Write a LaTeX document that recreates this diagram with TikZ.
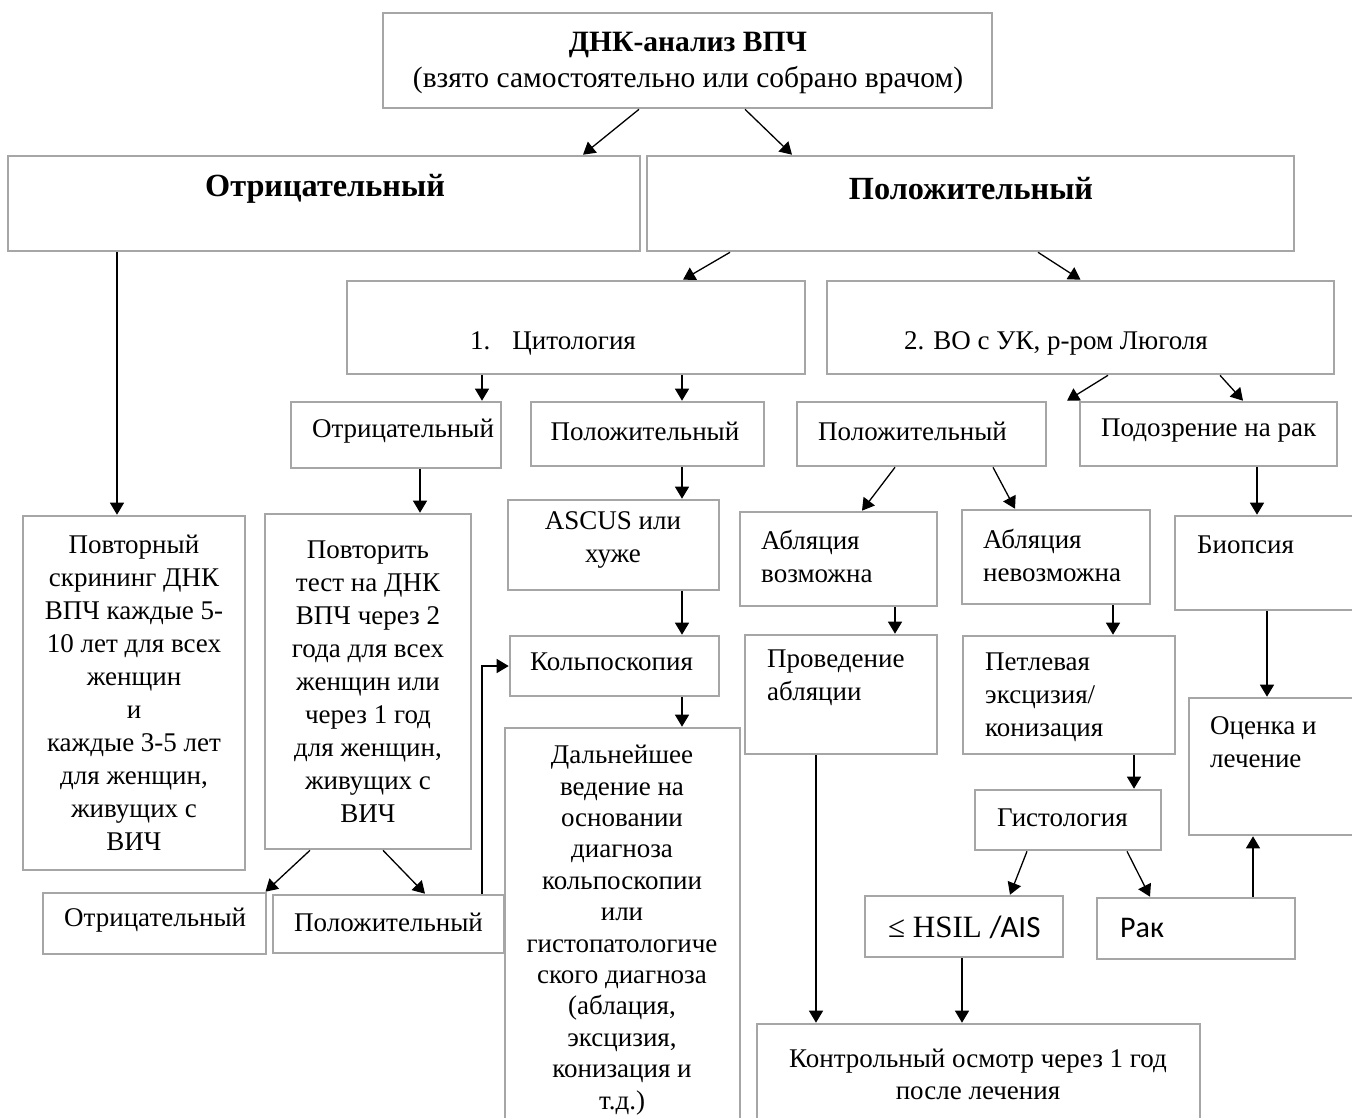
\documentclass[tikz,border=0pt]{standalone}
\usepackage{fontspec}
\setmainfont{Liberation Serif}
\newfontfamily\calfont{Carlito}
\usepackage{tikz}
\usetikzlibrary{arrows.meta,calc,positioning}
\definecolor{boxgray}{RGB}{166,166,166}

\begin{document}
\begin{tikzpicture}[x = 1pt, y = -1pt]
	\tikzstyle{box} = [rectangle, draw = boxgray, line width = 2.6pt, inner sep = 0pt]
	\tikzstyle{txt} = [draw = none, inner sep = 0pt, font = \fontsize{27}{33}\selectfont]
	\tikzstyle{arr} = [draw = black, line width = 1.3pt, -{Triangle[length = 12pt, width = 14pt]}]
	\useasboundingbox (0, 0) rectangle (1352, 1117);
	\clip (0, 0) rectangle (1352, 1117);

\node[box, minimum width = 609pt, minimum height = 95pt] (1) at (687.5, 60.5) {};
\node[box, minimum width = 632pt, minimum height = 95pt] (2) at (324, 203.5) {};
\node[box, minimum width = 647pt, minimum height = 95pt] (3) at (970.5, 203.5) {};
\node[box, minimum width = 458pt, minimum height = 93pt] (4) at (576, 327.5) {};
\node[box, minimum width = 507pt, minimum height = 93pt] (5) at (1080.5, 327.5) {};
\node[box, minimum width = 210pt, minimum height = 66pt] (6) at (396, 435) {};
\node[box, minimum width = 233pt, minimum height = 64pt] (7) at (647.5, 434) {};
\node[box, minimum width = 249pt, minimum height = 64pt] (8) at (921.5, 434) {};
\node[box, minimum width = 257pt, minimum height = 64pt] (9) at (1208.5, 434) {};
\node[box, minimum width = 222pt, minimum height = 354pt] (10) at (134, 693) {};
\node[box, minimum width = 206pt, minimum height = 335pt] (11) at (368, 681.5) {};
\node[box, minimum width = 211pt, minimum height = 90pt] (12) at (613.5, 545) {};
\node[box, minimum width = 209pt, minimum height = 60pt] (13) at (614.5, 666) {};
\node[box, minimum width = 235pt, minimum height = 402pt] (14) at (622.5, 929) {};
\node[box, minimum width = 197pt, minimum height = 94pt] (15) at (838.5, 559) {};
\node[box, minimum width = 188pt, minimum height = 94pt] (16) at (1056, 557) {};
\node[box, minimum width = 192pt, minimum height = 119pt] (17) at (841, 694.5) {};
\node[box, minimum width = 212pt, minimum height = 118pt] (18) at (1069, 695) {};
\node[box, minimum width = 195pt, minimum height = 94pt] (19) at (1272.5, 563) {};
\node[box, minimum width = 181pt, minimum height = 137pt] (20) at (1279.5, 766.5) {};
\node[box, minimum width = 186pt, minimum height = 60pt] (21) at (1068, 820) {};
\node[box, minimum width = 198pt, minimum height = 61pt] (22) at (964, 926.5) {};
\node[box, minimum width = 198pt, minimum height = 61pt] (23) at (1196, 928.5) {};
\node[box, minimum width = 223pt, minimum height = 61pt] (24) at (154.5, 923.5) {};
\node[box, minimum width = 231pt, minimum height = 58pt] (25) at (388.5, 924) {};
\node[box, minimum width = 443pt, minimum height = 106pt] (26) at (978.5, 1077) {};

\node[txt, align = center, font = \fontsize{29.5}{36}\selectfont] (1a) at (688, 63) {{\bfseries ДНК-анализ ВПЧ}\\(взято самостоятельно или собрано врачом)};
\node[txt, font = \bfseries\fontsize{32.3}{38}\selectfont] (2a) at (325, 189) {Отрицательный};
\node[txt, font = \bfseries\fontsize{32.3}{38}\selectfont] (3a) at (971, 189) {Положительный};
\node[txt, anchor = west] (4a) at (470, 343) {1.\hspace{22pt}Цитология};
\node[txt, anchor = west] (5a) at (904, 343) {2. ВО с УК, р-ром Люголя};
\node[txt] (6a) at (403, 431) {Отрицательный};
\node[txt] (7a) at (645, 431) {Положительный};
\node[txt, anchor = west] (8a) at (818, 431) {Положительный};
\node[txt, anchor = west] (9a) at (1101, 431) {Подозрение на рак};
\node[txt, align = center] (10a) at (134, 693) {Повторный\\скрининг ДНК\\ВПЧ каждые 5-\\10 лет для всех\\женщин\\и\\каждые 3-5 лет\\для женщин,\\живущих с\\ВИЧ};
\node[txt, align = center] (11a) at (368, 682) {Повторить\\тест на ДНК\\ВПЧ через 2\\года для всех\\женщин или\\через 1 год\\для женщин,\\живущих с\\ВИЧ};
\node[txt, align = center] (12a) at (613, 540) {ASCUS или\\хуже};
\node[txt, anchor = west] (13a) at (530, 662) {Кольпоскопия};
\node[txt, align = center, font = \fontsize{27}{31.4}\selectfont] (14a) at (622, 930) {Дальнейшее\\ведение на\\основании\\диагноза\\кольпоскопии\\или\\гистопатологиче\\ского диагноза\\(аблация,\\эксцизия,\\конизация и\\т.д.)};
\node[txt, anchor = west, align = left] (15a) at (761, 556) {Абляция\\возможна};
\node[txt, anchor = west, align = left] (16a) at (983, 555) {Абляция\\невозможна};
\node[txt, anchor = west, align = left] (17a) at (767, 678) {Проведение\\абляции};
\node[txt, anchor = west, align = left] (18a) at (985, 697) {Петлевая\\эксцизия/\\конизация};
\node[txt, anchor = west] (19a) at (1197, 545) {Биопсия};
\node[txt, anchor = west, align = left] (20a) at (1210, 742) {Оценка и\\лечение};
\node[txt, anchor = west] (21a) at (997, 818) {Гистология};
\node[txt, anchor = west, font = \fontsize{31}{37}\selectfont] (22a) at (888, 927) {≤ HSIL {\calfont/AIS}};
\node[txt, anchor = west, font = \calfont\fontsize{30}{36}\selectfont] (23a) at (1120, 928) {Рак};
\node[txt, anchor = west] (24a) at (64, 920) {Отрицательный};
\node[txt, anchor = west] (25a) at (294, 922) {Положительный};
\node[txt, align = center, font = \fontsize{27}{32}\selectfont] (26a) at (978, 1074) {Контрольный осмотр через 1 год\\после лечения};

	\path[arr] ([xshift = -48.5pt]1.south) -- ([xshift = 259pt]2.north);
	\path[arr] ([xshift = 57.5pt]1.south) -- ([xshift = -178.5pt]3.north);
	\path[arr] ([xshift = -207pt]2.south) -- ([xshift = -17pt]10.north);
	\path[arr] ([xshift = -240.5pt]3.south) -- ([xshift = 107pt]4.north);
	\path[arr] ([xshift = 67.5pt]3.south) -- (5.north);
	\path[arr] ([xshift = -94pt]4.south) -- ([xshift = 86pt]6.north);
	\path[arr] ([xshift = 106pt]4.south) -- ([xshift = 34.5pt]7.north);
	\path[arr] ([xshift = 27.5pt]5.south) -- ([xshift = 145.5pt]8.north);
	\path[arr] ([xshift = 139.5pt]5.south) -- ([xshift = 34.5pt]9.north);
	\path[arr] ([xshift = 24pt]6.south) -- ([xshift = 52pt]11.north);
	\path[arr] ([xshift = 34.5pt]7.south) -- ([xshift = 68.5pt]12.north);
	\path[arr] ([xshift = 68.5pt]12.south) -- ([xshift = 67.5pt]13.north);
	\path[arr] ([xshift = 67.5pt]13.south) -- ([xshift = 59.5pt]14.north);
	\path[arr] ([xshift = -26.5pt]8.south) -- ([xshift = 23.5pt]15.north);
	\path[arr] ([xshift = 71.5pt]8.south) -- ([xshift = -41pt]16.north);
	\path[arr] ([xshift = 48.5pt]9.south) -- ([xshift = -15.5pt]19.north);
	\path[arr] ([xshift = 56.5pt]15.south) -- ([xshift = 54pt]17.north);
	\path[arr] ([xshift = 57pt]16.south) -- ([xshift = 44pt]18.north);
	\path[arr] ([xshift = -5.5pt]19.south) -- ([xshift = -12.5pt]20.north);
	\path[arr] ([xshift = 65pt]18.south) -- ([xshift = 66pt]21.north);
	\path[arr] ([xshift = -25pt]17.south) -- ([xshift = -162.5pt]26.north);
	\path[arr] ([xshift = -41pt]21.south) -- ([xshift = 46pt]22.north);
	\path[arr] ([xshift = 59pt]21.south) -- ([xshift = -46pt]23.north);
	\path[arr] ([xshift = -2pt]22.south) -- ([xshift = -16.5pt]26.north);
	\path[arr] ([xshift = 57pt]23.north) -- ([xshift = -26.5pt]20.south);
	\path[arr] ([xshift = -58pt]11.south) -- ([xshift = 111pt]24.north);
	\path[arr] ([xshift = 15pt]11.south) -- ([xshift = 36.5pt]25.north);
	\path[arr] ([xshift = 93.5pt]25.north) |- (13.west);
\end{tikzpicture}
\end{document}
